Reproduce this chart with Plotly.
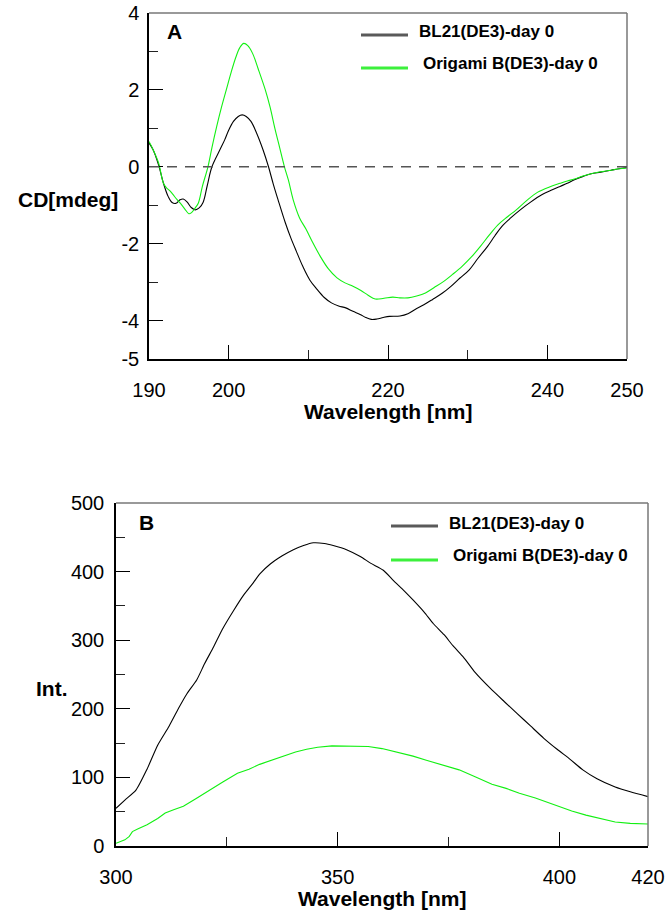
import plotly.graph_objects as go

# ---------------- Data: panel A (CD spectra) ----------------
cd_wl_bl21 = [190.0, 190.5, 191.2, 191.8, 192.4, 192.9, 193.4, 193.9, 194.3, 194.8, 195.3, 195.8,
              196.3, 196.8, 197.3, 197.9, 198.9, 199.5, 200.0, 200.6, 201.2, 201.7, 202.2, 202.8,
              203.5, 204.3, 205.0, 205.6, 206.2, 207.1, 207.8, 208.5, 209.3, 210.2, 211.1, 212.0,
              212.9, 213.8, 214.7, 215.6, 216.5, 217.2, 217.9, 218.6, 219.4, 220.2, 221.5, 222.5,
              223.4, 224.5, 225.6, 226.8, 227.9, 229.0, 230.2, 231.3, 232.5, 233.4, 234.3, 235.4,
              236.6, 237.9, 239.3, 240.4, 241.6, 242.5, 243.4, 244.5, 245.5, 246.7, 248.0, 249.0, 250.0]
cd_bl21 = [0.62, 0.45, 0.05, -0.42, -0.77, -0.93, -0.95, -0.86, -0.84, -0.92, -1.06, -1.12,
           -1.07, -0.92, -0.50, 0.00, 0.44, 0.70, 0.95, 1.18, 1.31, 1.35, 1.31, 1.18,
           0.88, 0.45, 0.00, -0.45, -0.86, -1.45, -1.85, -2.20, -2.59, -2.95, -3.19, -3.40,
           -3.54, -3.62, -3.67, -3.76, -3.84, -3.92, -3.97, -3.96, -3.92, -3.89, -3.88, -3.82,
           -3.71, -3.59, -3.45, -3.29, -3.11, -2.90, -2.68, -2.38, -2.07, -1.80, -1.55, -1.33,
           -1.12, -0.92, -0.73, -0.62, -0.51, -0.43, -0.34, -0.25, -0.18, -0.14, -0.09, -0.05, -0.02]

cd_wl_ori = [190.0, 190.5, 191.2, 191.8, 192.2, 192.6, 193.0, 193.5, 193.9, 194.5, 195.0, 195.3,
             195.8, 196.2, 196.7, 197.4, 197.9, 198.5, 199.1, 199.7, 200.3, 200.9, 201.4, 201.9,
             202.4, 203.0, 203.7, 204.6, 205.2, 205.8, 206.4, 207.0, 207.5, 208.1, 208.9, 209.7,
             210.5, 211.5, 212.5, 213.6, 214.6, 215.6, 216.6, 217.5, 218.4, 219.5, 220.6, 221.5,
             222.5, 223.6, 224.7, 225.8, 227.0, 228.1, 229.3, 230.5, 231.6, 232.7, 233.8, 235.0,
             236.1, 237.4, 238.8, 240.2, 241.6, 242.5, 243.4, 244.5, 245.5, 246.7, 248.0, 249.0, 250.0]
cd_ori = [0.66, 0.45, 0.10, -0.42, -0.55, -0.62, -0.72, -0.85, -0.94, -1.10, -1.22, -1.20,
          -1.07, -0.94, -0.51, 0.00, 0.50, 1.05, 1.55, 2.00, 2.45, 2.85, 3.10, 3.21,
          3.15, 2.95, 2.55, 2.00, 1.55, 1.00, 0.50, 0.00, -0.35, -0.86, -1.33, -1.62,
          -1.95, -2.33, -2.65, -2.89, -3.02, -3.11, -3.22, -3.34, -3.44, -3.42, -3.39, -3.41,
          -3.41, -3.36, -3.28, -3.14, -2.98, -2.80, -2.59, -2.34, -2.07, -1.78, -1.51, -1.30,
          -1.12, -0.88, -0.66, -0.53, -0.43, -0.37, -0.32, -0.24, -0.18, -0.13, -0.09, -0.05, -0.03]

# ---------------- Data: panel B (fluorescence) ----------------
fl_wl_bl21 = [300, 302, 304.5, 307, 309.4, 312, 314.3, 316, 318.2, 320, 322, 324, 326.5, 328.7,
              331, 332.5, 334.8, 337.5, 340, 342.3, 344.5, 347, 349, 352, 355.1, 357.5, 360.3,
              362.6, 365, 367.1, 369.5, 371.6, 374, 376, 378.4, 381, 384.4, 387.5, 390.5, 393.5,
              396.5, 399.5, 402.5, 405.3, 408.5, 412.6, 416, 420]
fl_bl21 = [55, 67, 81.5, 112, 147, 175, 203, 222, 242, 266, 290, 316, 343, 365,
           384, 397, 411, 423, 432, 438, 442, 441, 438, 432, 422, 412, 402,
           387, 372, 358, 341, 324, 308, 292, 275, 253, 230, 211, 193, 175,
           157, 141, 126, 111, 98, 86, 79, 72]

fl_wl_ori = [300, 301, 302, 303, 303.7, 305, 307, 309.4, 311.1, 313, 315.2, 318, 320.9, 324,
             327.4, 330, 332.4, 335, 337.5, 340.5, 343, 345.5, 348.7, 351, 353, 356.9, 360,
             363.5, 367, 370, 374, 377.4, 381, 384.8, 388, 391, 394.6, 398, 402.8, 406, 409,
             412.6, 416, 420]
fl_ori = [4, 6, 9, 14, 21, 25, 31, 40, 48, 53, 58, 69, 81, 93,
          106, 112, 119, 125, 131, 137, 141, 144, 146, 146, 145, 145, 142,
          137, 131, 125, 117, 111, 101, 90, 84, 77, 70, 62, 51, 45, 40,
          35, 33, 32]

# ---------------- Axis tick definitions ----------------
cd_xticks = [190, 200, 220, 240, 250]
cd_xminor = [210, 230]
cd_yticks = [-5, -4, -2, 0, 2, 4]
cd_yminor = [-3, -1, 1, 3]
fl_xticks = [300, 350, 400, 420]
fl_xminor = [325, 375]
fl_yticks = [0, 100, 200, 300, 400, 500]
fl_yminor = [50, 150, 250, 350, 450]

series_names = ["BL21(DE3)-day 0", "Origami B(DE3)-day 0"]

BLACK = "#000000"
GREEN = "#12f012"
FONT = "Liberation Sans, Arial, sans-serif"

W, H = 668, 913


def px(x):
    return x / W


def py(y):
    return 1 - y / H


fig = go.Figure()
fig.add_trace(go.Scatter(x=cd_wl_bl21, y=cd_bl21, mode="lines", line=dict(color=BLACK, width=1.1),
                         line_shape="spline", xaxis="x", yaxis="y", showlegend=False))
fig.add_trace(go.Scatter(x=cd_wl_ori, y=cd_ori, mode="lines", line=dict(color=GREEN, width=1.1),
                         line_shape="spline", xaxis="x", yaxis="y", showlegend=False))
fig.add_trace(go.Scatter(x=fl_wl_bl21, y=fl_bl21, mode="lines", line=dict(color=BLACK, width=1.1),
                         line_shape="spline", line_smoothing=0.6,
                         xaxis="x2", yaxis="y2", showlegend=False))
fig.add_trace(go.Scatter(x=fl_wl_ori, y=fl_ori, mode="lines", line=dict(color=GREEN, width=1.1),
                         xaxis="x2", yaxis="y2", showlegend=False))

tickfont = dict(family=FONT, size=20, color="#000")


def axis_cfg(domain, rng, ticks, minor, anchor, standoff):
    return dict(domain=domain, range=rng, anchor=anchor, showgrid=False, zeroline=False,
                automargin=False, ticklabeloverflow="allow",
                showline=True, linecolor="#000", linewidth=1.5,
                ticks="inside", ticklen=14, tickwidth=1.2, tickcolor="#000",
                tickmode="array", tickvals=ticks, ticktext=[str(t) for t in ticks],
                minor=dict(tickmode="array", tickvals=minor, ticks="inside", ticklen=9,
                           tickwidth=1.2, tickcolor="#222"),
                tickfont=tickfont, ticklabelstandoff=standoff)


fig.update_layout(
    width=W, height=H, margin=dict(l=0, r=0, t=0, b=0, pad=0, autoexpand=False),
    paper_bgcolor="white", plot_bgcolor="white",
    xaxis=axis_cfg([px(149), px(627)], [190, 250], cd_xticks, cd_xminor, "y", 12),
    yaxis=axis_cfg([py(359), py(13)], [-5, 4], cd_yticks, cd_yminor, "x", 4),
    xaxis2=axis_cfg([px(116), px(648)], [300, 420], fl_xticks, fl_xminor, "y2", 12),
    yaxis2=axis_cfg([py(846), py(503)], [0, 500], fl_yticks, fl_yminor, "x2", 6),
    showlegend=False,
)

shapes = []
# gray top/right frame lines
for xr, yr in (("x domain", "y domain"), ("x2 domain", "y2 domain")):
    shapes.append(dict(type="line", xref=xr, yref=yr, x0=0, x1=1, y0=1, y1=1,
                       line=dict(color="#777", width=1.5)))
    shapes.append(dict(type="line", xref=xr, yref=yr, x0=1, x1=1, y0=0, y1=1,
                       line=dict(color="#777", width=1.5)))
# dashed zero line in panel A
shapes.append(dict(type="line", xref="x domain", yref="y", x0=0, x1=1, y0=0, y1=0,
                   line=dict(color="#555", width=1.5, dash="10px,8px")))
# legend sample lines and labels
legend_specs = [
    (361, 408, 35, 68, 416.5, 31, 421, 63),
    (391, 438, 526, 560, 446.5, 523, 451, 555),
]
annotations = []
for lx0, lx1, yb, yg, tbx, tby, tgx, tgy in legend_specs:
    shapes.append(dict(type="line", xref="paper", yref="paper", x0=px(lx0), x1=px(lx1),
                       y0=py(yb), y1=py(yb), line=dict(color="#5a5a5a", width=3)))
    shapes.append(dict(type="line", xref="paper", yref="paper", x0=px(lx0), x1=px(lx1),
                       y0=py(yg), y1=py(yg), line=dict(color="#3cf03c", width=3)))
    annotations.append(dict(text="<b>%s</b>" % series_names[0], xref="paper", yref="paper",
                            x=px(tbx), y=py(tby), xanchor="left", yanchor="middle",
                            showarrow=False, font=dict(family=FONT, size=17, color="#000")))
    annotations.append(dict(text="<b>%s</b>" % series_names[1], xref="paper", yref="paper",
                            x=px(tgx), y=py(tgy), xanchor="left", yanchor="middle",
                            showarrow=False, font=dict(family=FONT, size=17, color="#000")))

title_font = dict(family=FONT, size=21, color="#000")
annotations += [
    dict(text="<b>A</b>", xref="paper", yref="paper", x=px(174), y=py(32), xanchor="center",
         yanchor="middle", showarrow=False, font=title_font),
    dict(text="<b>B</b>", xref="paper", yref="paper", x=px(146), y=py(522), xanchor="center",
         yanchor="middle", showarrow=False, font=title_font),
    dict(text="<b>CD[mdeg]</b>", xref="paper", yref="paper", x=px(68), y=py(199), xanchor="center",
         yanchor="middle", showarrow=False, font=title_font),
    dict(text="<b>Int.</b>", xref="paper", yref="paper", x=px(52), y=py(688), xanchor="center",
         yanchor="middle", showarrow=False, font=title_font),
    dict(text="<b>Wavelength [nm]</b>", xref="x domain", yref="paper", x=0.5, y=py(412),
         xanchor="center", yanchor="middle", showarrow=False, font=title_font),
    dict(text="<b>Wavelength [nm]</b>", xref="x2 domain", yref="paper", x=0.5, y=py(898),
         xanchor="center", yanchor="middle", showarrow=False, font=title_font),
]

fig.update_layout(shapes=shapes, annotations=annotations)
# remove the browser's default 8px body margin so the figure fills the window exactly
fig.write_html("out.html", config={"displayModeBar": False},
               post_script="document.body.style.margin='0px';")
